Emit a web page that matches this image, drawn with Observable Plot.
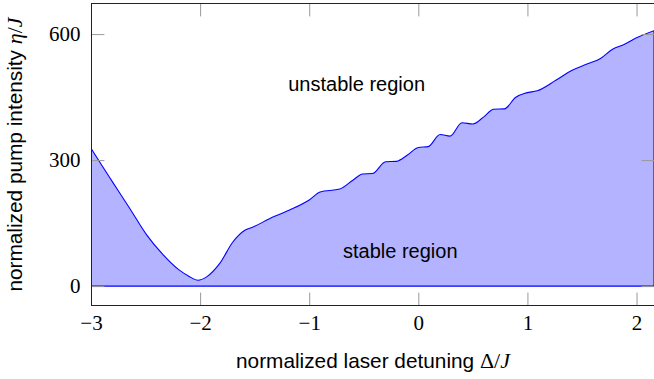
<!DOCTYPE html>
<html>
<head>
<meta charset="utf-8">
<script src="https://cdn.jsdelivr.net/npm/d3@7"></script>
<script src="https://cdn.jsdelivr.net/npm/@observablehq/plot@0.6"></script>
<style>
  html, body { margin: 0; padding: 0; background: #fff; }
</style>
</head>
<body>
<div id="chart"></div>
<script>
// normalized laser detuning Δ/J
const detuning = [-3, -2.9, -2.8, -2.64, -2.49, -2.34, -2.19, -2.1, -2.02, -1.94, -1.82, -1.70, -1.59, -1.52, -1.36, -1.18, -1.0, -0.9, -0.72, -0.6, -0.51, -0.42, -0.3, -0.2, -0.1, 0.0, 0.09, 0.2, 0.29, 0.4, 0.5, 0.6, 0.69, 0.79, 0.89, 0.99, 1.09, 1.26, 1.41, 1.54, 1.67, 1.78, 1.89, 1.99, 2.16];
// threshold pump intensity η/J
const threshold = [328, 287, 247, 183, 122, 75, 38, 23, 14, 22, 54, 105, 133, 140, 161, 181, 205, 224, 231, 252, 267, 268, 296, 297, 312, 330, 332, 361, 357, 389, 386, 403, 421, 422, 449, 460, 465, 490, 514, 528, 542, 564, 576, 590, 608];

const xTicks = [-3, -2, -1, 0, 1, 2];
const yTicks = [0, 300, 600];
const regionNames = ["unstable region", "stable region"];
const regionX = [-0.57, -0.17];
const regionY = [481, 83];

const data = detuning.map((x, i) => ({x, y: threshold[i]}));
const regions = regionNames.map((t, i) => ({t, x: regionX[i], y: regionY[i]}));
const fmt = d => d < 0 ? "\u2212" + Math.abs(d) : String(d);

const tickColor = "#999";
const tickLen = 12.5;
// plain line shape for inward tick marks
const tickShape = {draw(context, l) { context.moveTo(0, 0); context.lineTo(0, -l); }};

const plot = Plot.plot({
  width: 654,
  height: 379,
  marginLeft: 91,
  marginRight: 0,
  marginTop: 3,
  marginBottom: 74,
  x: {domain: [-3, 2.16]},
  y: {domain: [-45, 674]},
  style: {fontFamily: "'Liberation Serif', serif", fontSize: "21px", color: "black", background: "white"},
  marks: [
    Plot.areaY(data, {x: "x", y: "y", fill: "#b3b3ff", stroke: "#0000ff", strokeWidth: 1.1, curve: "monotone-x", clip: true}),
    Plot.text(regions, {x: "x", y: "y", text: "t", fontFamily: "'Liberation Sans', sans-serif", fontSize: 20, fill: "black"}),
    // inward ticks on all sides
    Plot.vector(xTicks, {x: d => d, frameAnchor: "bottom", rotate: 0, length: tickLen, anchor: "start", shape: tickShape, stroke: tickColor, strokeWidth: 1}),
    Plot.vector(xTicks, {x: d => d, frameAnchor: "top", rotate: 180, length: tickLen, anchor: "start", shape: tickShape, stroke: tickColor, strokeWidth: 1}),
    Plot.vector(yTicks, {y: d => d, frameAnchor: "left", rotate: 90, length: tickLen, anchor: "start", shape: tickShape, stroke: tickColor, strokeWidth: 1}),
    Plot.vector(yTicks, {y: d => d, frameAnchor: "right", rotate: -90, length: tickLen, anchor: "start", shape: tickShape, stroke: tickColor, strokeWidth: 1}),
    Plot.axisX({ticks: xTicks, tickSize: 0, tickPadding: 10, tickFormat: fmt, label: null, fontSize: 21}),
    Plot.axisY({ticks: yTicks, tickSize: 0, tickPadding: 11, tickFormat: fmt, label: null, fontSize: 21}),
    Plot.frame({stroke: "#222", strokeWidth: 1}),
    Plot.text(["XLABEL"], {frameAnchor: "bottom", dy: 56, textAnchor: "middle", lineAnchor: "middle", fontSize: 21, fill: "black"}),
    Plot.text(["YLABEL"], {frameAnchor: "left", dx: -76, textAnchor: "middle", rotate: -90, lineAnchor: "middle", fontSize: 21, fill: "black"})
  ]
});

document.getElementById("chart").appendChild(plot);

// rich labels: sans-serif words with serif math
function richLabel(placeholder, parts) {
  d3.select(plot).selectAll("text").each(function() {
    if (this.textContent === placeholder) {
      const t = d3.select(this);
      t.text(null);
      for (const p of parts) {
        t.append("tspan")
          .attr("font-family", p.serif ? "'Liberation Serif', serif" : "'Liberation Sans', sans-serif")
          .attr("font-style", p.italic ? "italic" : "normal")
          .attr("font-size", p.serif ? 22 : 20.8)
          .text(p.s);
      }
    }
  });
}
richLabel("XLABEL", [
  {s: "normalized laser detuning "},
  {s: "\u0394/", serif: true},
  {s: "J", serif: true, italic: true}
]);
richLabel("YLABEL", [
  {s: "normalized pump intensity "},
  {s: "\u03b7", serif: true, italic: true},
  {s: "/", serif: true},
  {s: "J", serif: true, italic: true}
]);
</script>
</body>
</html>
